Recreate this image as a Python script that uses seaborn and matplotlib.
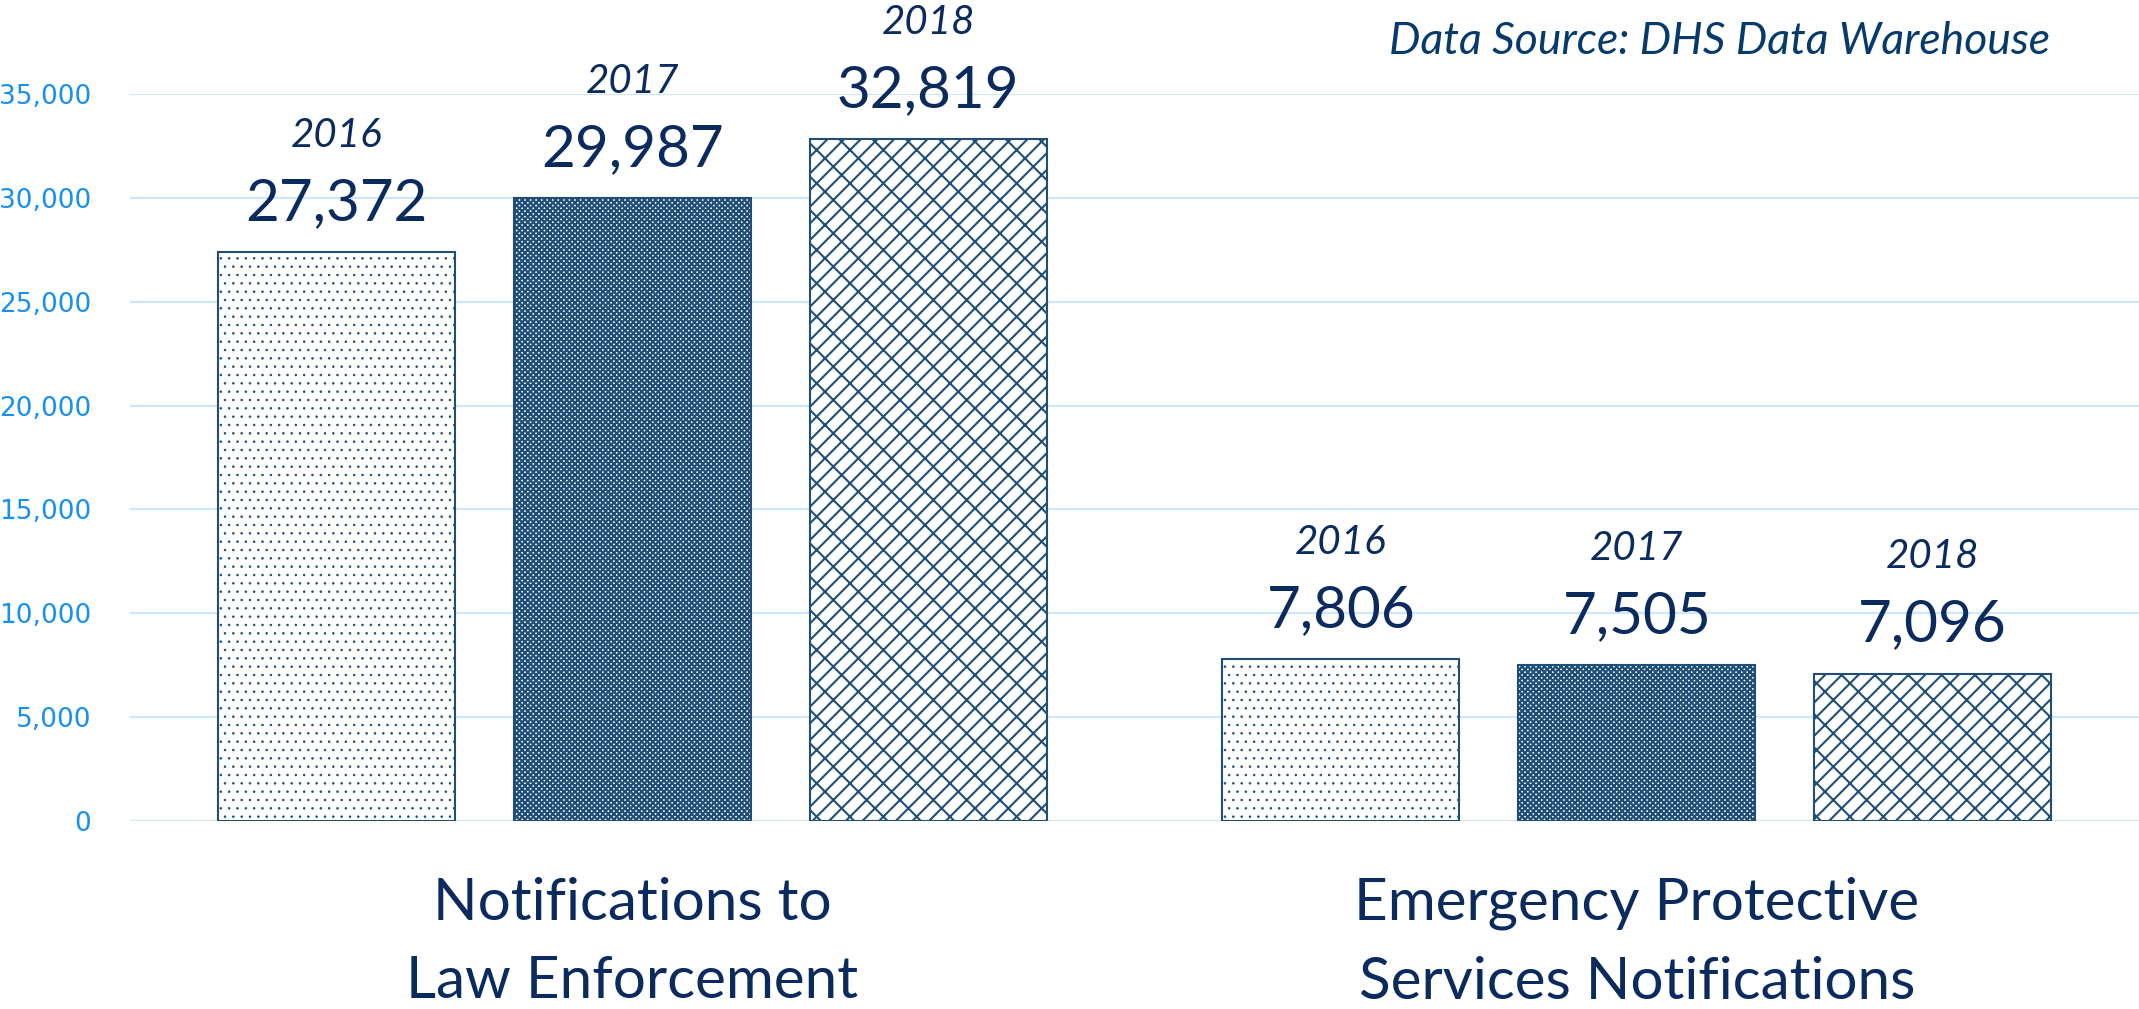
import matplotlib
matplotlib.use("Agg")
import matplotlib.pyplot as plt
import seaborn as sns
import pandas as pd

categories = ["Notifications to\nLaw Enforcement", "Emergency Protective\nServices Notifications"]
years = ["2016", "2017", "2018"]
values_2016 = [27372, 7806]
values_2017 = [29987, 7505]
values_2018 = [32819, 7096]
yticks = [0, 5000, 10000, 15000, 20000, 25000, 30000, 35000]
source_text = "Data Source: DHS Data Warehouse"

rows = []
for yr, vals in zip(years, [values_2016, values_2017, values_2018]):
    for c, v in zip(categories, vals):
        rows.append({"category": c, "year": yr, "value": v})
df = pd.DataFrame(rows)

sns.set_theme(style="white")
plt.rcParams["font.family"] = ["Lato", "DejaVu Sans"]
plt.rcParams["hatch.linewidth"] = 1.6

navy = "#0B2A5E"
edge = "#1F4E79"
tick_blue = "#1890F0"
grid_blue = "#CDE6FB"

fig = plt.figure(figsize=(21.39, 10.09), dpi=100)
ax = fig.add_axes([0.0608, 0.1863, 0.9392, 0.7205])

sns.barplot(data=df, x="category", y="value", hue="year", order=categories,
            hue_order=years, width=0.884, gap=0.2, ax=ax, legend=False,
            palette=["white", "white", "white"], saturation=1)

hatches = ["..", "xxxxxx", "/x"]
hatch_lw = [0.6, 1.6, 1.5]
for cont, h, hlw in zip(ax.containers, hatches, hatch_lw):
    for p in cont:
        p.set_hatch(h)
        p.set_edgecolor(edge)
        p.set_linewidth(1.5)
        p.set_facecolor("white")
        if hasattr(p, "set_hatch_linewidth"):
            p.set_hatch_linewidth(hlw)

for cont, yr in zip(ax.containers, years):
    for p in cont:
        x = p.get_x() + p.get_width() / 2
        top = p.get_height()
        ax.annotate(f"{int(round(top)):,}", (x, top), xytext=(0, 35),
                    textcoords="offset points", ha="center", va="center",
                    fontsize=42, color=navy, annotation_clip=False)
        ax.annotate(yr, (x, top), xytext=(0, 84), textcoords="offset points",
                    ha="center", va="center", fontsize=29, style="italic",
                    color=navy, annotation_clip=False)

ax.set_xlim(-0.5, 1.5)
ax.set_ylim(0, 35000)
ax.set_yticks(yticks)
ax.set_yticklabels([f"{t:,}" for t in yticks], fontsize=19, color=tick_blue,
                   family="DejaVu Sans")
ax.yaxis.grid(True, color=grid_blue, linewidth=1.5)
ax.set_axisbelow(True)
ax.tick_params(axis="y", length=0, pad=28)
ax.tick_params(axis="x", length=0, pad=40)
ax.set_xticks(range(len(categories)))
ax.set_xticklabels(categories, fontsize=42, color=navy, linespacing=1.6)
for lbl in ax.get_xticklabels():
    lbl.set_va("top")
ax.set_xlabel("")
ax.set_ylabel("")
for s in ax.spines.values():
    s.set_visible(False)

fig.text(2050 / 2139, 1 - 41 / 1009, source_text, ha="right", va="center",
         fontsize=32, style="italic", color="#063A6B")

fig.savefig("out.png", dpi=100)
